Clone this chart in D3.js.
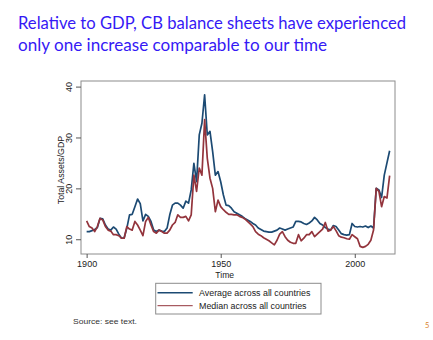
<!DOCTYPE html>
<html>
<head>
<meta charset="utf-8">
<script src="https://cdnjs.cloudflare.com/ajax/libs/d3/7.8.5/d3.min.js"></script>
<style>
  html, body { margin: 0; padding: 0; background: #ffffff; }
  svg { display: block; }
</style>
</head>
<body>
<script>
// Central bank total assets relative to GDP, annual, 1900–2013
const startYear = 1900;
const averageSeries = [
  11.5, 11.5, 11.7, 11.9, 12.3, 14.1, 14.0, 12.8, 12.0, 11.8,
  12.4, 12.0, 11.0, 10.2, 10.3, 12.2, 14.8, 14.9, 16.4, 17.9,
  17.0, 13.6, 14.9, 14.5, 13.5, 11.8, 11.5, 11.8, 11.6, 11.5,
  12.2, 14.8, 16.7, 17.1, 17.1, 16.7, 16.1, 17.5, 17.1, 19.7,
  24.9, 21.3, 30.5, 32.8, 38.4, 30.5, 31.2, 27.2, 22.6, 23.3,
  21.3, 18.7, 16.7, 16.6, 16.1, 15.4, 15.1, 14.8, 14.5, 14.1,
  13.8, 13.5, 13.1, 12.8, 12.2, 11.9, 11.6, 11.5, 11.4, 11.4,
  11.6, 11.8, 12.2, 12.0, 11.8, 12.0, 12.2, 12.4, 13.5, 13.5,
  13.4, 13.1, 12.9, 13.2, 13.6, 14.3, 13.8, 13.1, 12.8, 12.3,
  12.0, 11.8, 12.7, 12.5, 11.8, 11.1, 10.9, 10.8, 10.9, 13.1,
  12.5, 12.4, 12.5, 12.4, 12.6, 12.3, 12.6, 12.2, 20.0, 19.7,
  18.2, 22.6, 25.0, 27.4
];
const medianSeries = [
  13.6, 12.5, 12.2, 11.5, 12.5, 14.1, 13.8, 12.5, 11.8, 11.6,
  10.9, 10.9, 10.7, 10.2, 10.2, 12.5, 12.0, 11.8, 13.5, 12.8,
  11.8, 10.7, 13.5, 14.3, 12.8, 11.5, 11.2, 11.8, 11.5, 11.2,
  11.2, 11.8, 12.8, 13.3, 14.8, 14.3, 14.3, 14.5, 13.6, 14.8,
  22.6, 19.4, 24.0, 22.6, 33.5, 25.9, 22.0, 20.0, 15.4, 17.7,
  16.4, 15.8, 15.3, 14.9, 14.9, 14.8, 14.8, 14.5, 14.3, 14.0,
  13.5, 13.0, 12.5, 11.5, 11.0, 10.7, 10.3, 10.0, 9.7, 9.3,
  8.9, 9.8, 11.0, 11.5, 10.5, 9.8, 9.4, 9.2, 9.2, 10.9,
  9.7, 10.2, 10.9, 10.9, 11.5, 10.5, 11.0, 11.5, 12.0, 13.3,
  11.6, 11.8, 12.5, 11.7, 10.7, 10.4, 10.3, 10.1, 10.0, 10.9,
  10.5, 10.1, 8.6, 8.4, 8.6, 9.0, 9.8, 11.8, 20.0, 19.4,
  16.4, 18.4, 18.1, 22.5
];
const xTickValues = [1900, 1950, 2000];
const yTickValues = [10, 20, 30, 40];
const seriesNames = ["Average across all countries", "Median across all countries"];
const seriesColors = ["#1c4a73", "#93343c"];
const titleLines = [
  "Relative to GDP, CB balance sheets have experienced",
  "only one increase comparable to our time"
];

const W = 433, H = 340;
const plot = { left: 81, right: 395, top: 81, bottom: 254 };

const svg = d3.select("body").append("svg")
  .attr("width", W).attr("height", H)
  .attr("viewBox", `0 0 ${W} ${H}`);

// Slide title
const titleWidths = [388, 309];
titleLines.forEach((t, i) => {
  svg.append("text")
    .attr("x", 18).attr("y", 29 + i * 21.5)
    .attr("font-family", "Lato, 'Open Sans', sans-serif")
    .attr("font-size", 17.8)
    .attr("fill", "#3519f5")
    .attr("textLength", titleWidths[i])
    .attr("lengthAdjust", "spacingAndGlyphs")
    .text(t);
});

const x = d3.scaleLinear().domain([1897.9, 2015]).range([plot.left, plot.right]);
const y = d3.scaleLinear().domain([7.1, 41.1]).range([plot.bottom, plot.top]);

const fontAxis = "'Liberation Sans', Arial, sans-serif";

// Plot region frame
svg.append("rect")
  .attr("x", plot.left).attr("y", plot.top)
  .attr("width", plot.right - plot.left).attr("height", plot.bottom - plot.top)
  .attr("fill", "#ffffff").attr("stroke", "#8c8c8c").attr("stroke-width", 1);

// X axis
const gx = svg.append("g")
  .attr("transform", `translate(0,${plot.bottom})`)
  .call(d3.axisBottom(x).tickValues(xTickValues).tickFormat(d3.format("d")).tickSize(4).tickPadding(3));
gx.select(".domain").remove();
gx.selectAll(".tick line").attr("stroke", "#555");
gx.selectAll(".tick text")
  .attr("font-family", "'Liberation Sans Narrow', 'Liberation Sans', Arial, sans-serif")
  .attr("font-size", 9).attr("fill", "#222");

// Y axis with vertical labels
const gy = svg.append("g")
  .attr("transform", `translate(${plot.left},0)`)
  .call(d3.axisLeft(y).tickValues(yTickValues).tickSize(5).tickPadding(3));
gy.select(".domain").remove();
gy.selectAll(".tick line").attr("stroke", "#555");
gy.selectAll(".tick text")
  .attr("x", 0).attr("y", 0).attr("dy", 0)
  .attr("text-anchor", "middle")
  .attr("transform", "translate(-9,0) rotate(-90)")
  .attr("font-family", "'Liberation Sans Narrow', 'Liberation Sans', Arial, sans-serif")
  .attr("font-size", 9).attr("fill", "#222");

// Axis titles
svg.append("text")
  .attr("x", (x(1900) + x(2000)) / 2 + 4).attr("y", 277.5)
  .attr("text-anchor", "middle")
  .attr("font-family", fontAxis).attr("font-size", 8.6).attr("fill", "#222")
  .text("Time");
svg.append("text")
  .attr("transform", `translate(64,${y(23.6)}) rotate(-90)`)
  .attr("text-anchor", "middle")
  .attr("font-family", fontAxis).attr("font-size", 8.8).attr("fill", "#222")
  .text("Total Assets/GDP");

// Series lines
const line = d3.line()
  .x((d, i) => x(startYear + i))
  .y(d => y(d));
[averageSeries, medianSeries].forEach((s, k) => {
  svg.append("path")
    .datum(s)
    .attr("d", line)
    .attr("fill", "none")
    .attr("stroke", seriesColors[k])
    .attr("stroke-width", 1.7)
    .attr("stroke-linejoin", "round");
});

// Legend
const legend = svg.append("g");
legend.append("rect")
  .attr("x", 155.7).attr("y", 283.3).attr("width", 165.3).attr("height", 30.7)
  .attr("fill", "#ffffff").attr("stroke", "#8c8c8c").attr("stroke-width", 1);
seriesNames.forEach((name, k) => {
  const ly = 292.7 + k * 13;
  legend.append("line")
    .attr("x1", 157.5).attr("x2", 192.7).attr("y1", ly).attr("y2", ly)
    .attr("stroke", seriesColors[k]).attr("stroke-width", k === 0 ? 1.5 : 1);
  legend.append("text")
    .attr("x", 199).attr("y", ly + 3)
    .attr("font-family", fontAxis).attr("font-size", 8.9).attr("fill", "#222")
    .text(name);
});

// Footnote and slide number
svg.append("text")
  .attr("x", 73).attr("y", 324)
  .attr("font-family", fontAxis).attr("font-size", 6.8).attr("fill", "#333")
  .attr("textLength", 64).attr("lengthAdjust", "spacingAndGlyphs")
  .text("Source: see text.");
svg.append("text")
  .attr("x", 425).attr("y", 328)
  .attr("font-family", "Lato, sans-serif").attr("font-size", 7.5).attr("fill", "#d9822b")
  .text("5");
</script>
</body>
</html>
